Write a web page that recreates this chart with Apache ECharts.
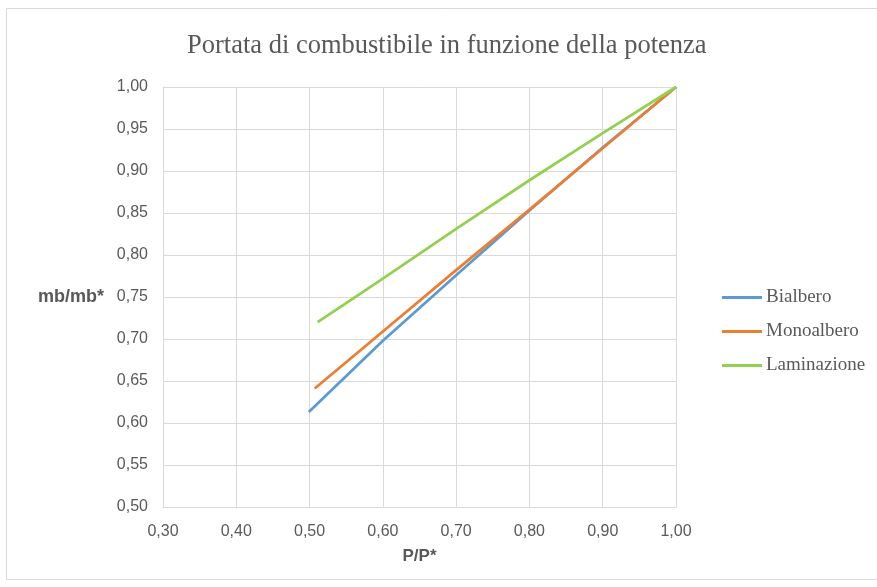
<!DOCTYPE html>
<html>
<head>
<meta charset="utf-8">
<script src="https://cdn.jsdelivr.net/npm/echarts@6/dist/echarts.min.js"></script>
<style>
html,body{margin:0;padding:0;background:#fff;}
#chart{width:877px;height:587px;}
</style>
</head>
<body>
<div id="chart"></div>
<script>
var titleText = 'Portata di combustibile in funzione della potenza';
var xName = 'P/P*';
var yName = 'mb/mb*';
var seriesNames = ['Bialbero', 'Monoalbero', 'Laminazione'];
var bialberoX = [0.499, 0.6, 0.7, 0.8, 0.9, 1.0];
var bialberoY = [0.613, 0.698, 0.776, 0.853, 0.928, 1.0];
var monoalberoX = [0.507, 0.6, 0.7, 0.8, 0.9, 1.0];
var monoalberoY = [0.641, 0.709, 0.782, 0.854, 0.927, 1.0];
var laminazioneX = [0.511, 0.6, 0.7, 0.8, 0.9, 1.0];
var laminazioneY = [0.720, 0.772, 0.831, 0.889, 0.945, 1.0];
var colors = ['#5b9bd5', '#ed7d31', '#92d050'];

function pairs(xs, ys) { return xs.map(function (x, i) { return [x, ys[i]]; }); }
function fmt(v) { return v.toFixed(2).replace('.', ','); }

var chart = echarts.init(document.getElementById('chart'), null, {renderer: 'canvas'});
var sans = '"Liberation Sans", "Noto Sans", sans-serif';
var serif = '"Liberation Serif", "DejaVu Serif", serif';
var dataSets = [pairs(bialberoX, bialberoY), pairs(monoalberoX, monoalberoY), pairs(laminazioneX, laminazioneY)];

chart.setOption({
  animation: false,
  backgroundColor: '#fff',
  graphic: [{
    type: 'rect', shape: {x: 6.5, y: 8.5, width: 875, height: 571},
    style: {fill: 'none', stroke: '#d9d9d9', lineWidth: 1}, silent: true
  }],
  title: {
    text: titleText, left: 182, top: 28,
    textStyle: {fontFamily: serif, fontSize: 26.5, fontWeight: 'normal', color: '#595959'}
  },
  legend: {
    orient: 'vertical', left: 717, top: 283, itemWidth: 40, itemHeight: 3, itemGap: 15,
    icon: 'rect',
    textStyle: {fontFamily: serif, fontSize: 19, color: '#595959', padding: [0, 0, 0, -1]},
    data: seriesNames
  },
  grid: {left: 163, right: 201, top: 87, bottom: 80},
  xAxis: {
    type: 'value', min: 0.3, max: 1.0, interval: 0.1,
    name: xName, nameLocation: 'middle', nameGap: 41,
    nameTextStyle: {fontFamily: sans, fontSize: 17, fontWeight: 'bold', color: '#595959'},
    axisLine: {show: true, lineStyle: {color: '#d9d9d9'}},
    axisTick: {show: false},
    axisLabel: {formatter: fmt, fontFamily: sans, fontSize: 16, color: '#595959', margin: 17},
    splitLine: {show: true, lineStyle: {color: '#d9d9d9', width: 1}}
  },
  yAxis: {
    type: 'value', min: 0.5, max: 1.0, interval: 0.05,
    name: yName, nameLocation: 'middle', nameGap: 59, nameRotate: 0,
    nameTextStyle: {fontFamily: sans, fontSize: 18, fontWeight: 'bold', color: '#595959', align: 'right'},
    axisLine: {show: true, lineStyle: {color: '#d9d9d9'}},
    axisTick: {show: false},
    axisLabel: {formatter: fmt, fontFamily: sans, fontSize: 16, color: '#595959', margin: 15},
    splitLine: {show: true, lineStyle: {color: '#d9d9d9', width: 1}}
  },
  series: seriesNames.map(function (n, i) {
    return {
      name: n, type: 'line', data: dataSets[i], showSymbol: false, symbol: 'none',
      lineStyle: {color: colors[i], width: 2.75}, itemStyle: {color: colors[i]}
    };
  })
});
</script>
</body>
</html>
